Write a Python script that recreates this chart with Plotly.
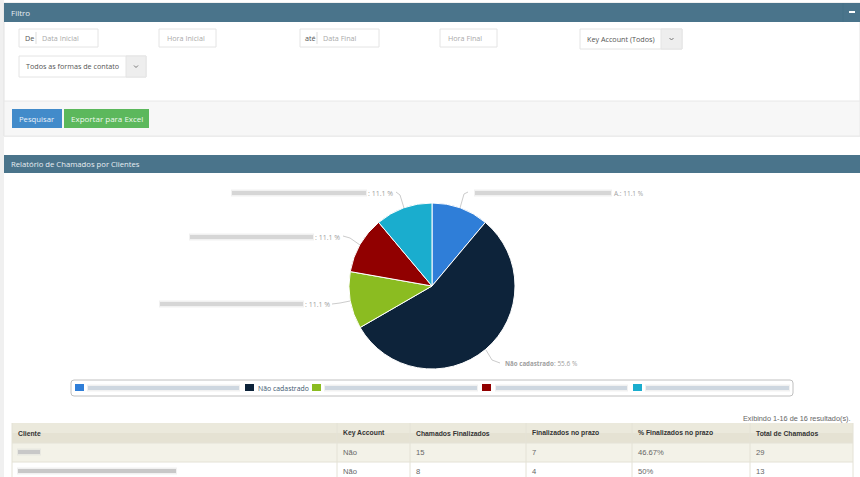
import plotly.graph_objects as go

W, H = 860, 477

# pie data
slice_names = ["Empresa A", "Não cadastrado", "Empresa B", "Empresa C", "Empresa D"]
slice_values = [1, 5, 1, 1, 1]
slice_colors = ["#2f7ed8", "#0d233a", "#8bbc21", "#910000", "#1aadce"]

# table data
table_columns = ["Cliente", "Key Account", "Chamados Finalizados", "Finalizados no prazo",
                 "% Finalizados no prazo", "Total de Chamados"]
key_account = ["Não", "Não"]
chamados_finalizados = ["15", "8"]
finalizados_prazo = ["7", "4"]
pct_prazo = ["46.67%", "50%"]
total_chamados = ["29", "13"]


def px(x):
    return x / W


def py(y):
    return 1 - y / H


shapes = []
annotations = []


def rect(x0, y0, x1, y1, fill, line=None, lw=1):
    shapes.append(dict(type="rect", xref="paper", yref="paper", x0=px(x0), x1=px(x1), y0=py(y0), y1=py(y1),
                       fillcolor=fill, line=dict(color=line or fill, width=lw if line else 0), layer="above"))


def seg(points, color, lw=1):
    path = "M" + " L".join(f"{px(x)},{py(y)}" for x, y in points)
    shapes.append(dict(type="path", xref="paper", yref="paper", path=path,
                       line=dict(color=color, width=lw), layer="above"))


def text(x, y, s, color="#555555", size=8, anchor="left", font="Open Sans"):
    annotations.append(dict(x=px(x), y=py(y), xref="paper", yref="paper", text=s, showarrow=False,
                            xanchor=anchor, yanchor="middle", borderpad=0,
                            font=dict(family=font, size=size, color=color)))


def smudge(x0, x1, y, color="#d6d6d6"):
    # names are blurred out in the source screenshot
    seg([(x0, y), (x1, y)], "rgba(210,210,210,0.3)", 7)
    seg([(x0 + 1, y), (x1 - 1, y)], color, 4)


def dropdown(x0, y0, x1, y1, split, label):
    rect(x0, y0, x1, y1, "#ffffff", "#e4e4e4")
    rect(split, y0, x1, y1, "#eeeeee", "#e4e4e4")
    text(x0 + 6, (y0 + y1) / 2 - 0.5, label, "#555555", 7.2)
    mx, my = (split + x1) / 2, (y0 + y1) / 2
    seg([(mx - 2, my - 1), (mx, my + 1), (mx + 2, my - 1)], "#777777")


# page and panels
rect(0, 0, 4, H, "#f0f0f0")
rect(4, 3, W, 136, "#ffffff", "#e2e2e2")
rect(4, 3, W, 22, "#4a748b")
text(10, 12.5, "Filtro", "#e8eef2", 8)
seg([(843, 3), (843, 22)], "#447086")
rect(849, 11, 855, 13, "#ffffff")
rect(4, 101, W, 136, "#f7f7f7", "#e8e8e8")
rect(4, 155, W, 173, "#4a748b")
text(10, 164, "Relatório de Chamados por Clientes", "#e8eef2", 7.7)

# filter inputs
rect(19, 29, 98, 47, "#ffffff", "#e4e4e4")
text(24, 38, "De", "#555555", 7.2)
seg([(36, 32), (36, 44)], "#dddddd")
text(41, 38, "Data Inicial", "#aaaaaa", 7.2)
rect(159, 29, 216, 47, "#ffffff", "#e4e4e4")
text(166, 38, "Hora Inicial", "#aaaaaa", 7.2)
rect(300, 29, 379, 47, "#ffffff", "#e4e4e4")
text(304, 38, "até", "#555555", 7.2)
seg([(317, 32), (317, 44)], "#dddddd")
text(322, 38, "Data Final", "#aaaaaa", 7.2)
rect(440, 29, 497, 47, "#ffffff", "#e4e4e4")
text(447, 38, "Hora Final", "#aaaaaa", 7.2)
dropdown(580, 29, 682, 49, 661, "Key Account (Todos)")
dropdown(19, 56, 146, 77, 126, "Todos as formas de contato")

# buttons
rect(12, 109, 62, 128, "#428bca")
text(37, 118.5, "Pesquisar", "#eaf2fa", 7.7, "center")
rect(64, 109, 149, 128, "#5cb85c")
text(106.5, 118.5, "Exportar para Excel", "#eef8ee", 8, "center")

# pie labels and connectors
label_color = "#a0a0a0"
smudge(231, 367, 193)
text(367, 193, ": 11.1 %", label_color, 7)
seg([(396, 192), (400, 195), (404, 208)], "#cccccc")
smudge(189, 314, 237)
text(314, 237, ": 11.1 %", label_color, 7)
seg([(343, 236), (350, 238), (360, 245)], "#cccccc")
smudge(159, 304, 304)
text(304, 304, ": 11.1 %", label_color, 7)
seg([(332, 304), (340, 303), (350, 301)], "#cccccc")
smudge(474, 612, 193)
text(613, 193, "A.: 11.1 %", label_color, 6.5)
seg([(468, 192), (464, 194), (460, 208)], "#cccccc")
text(504, 363, "<b>Não cadastrado</b>", label_color, 6.2)
text(553, 363, ": 55.6 %", label_color, 6.5)
seg([(486, 350), (492, 360), (500, 363)], "#cccccc")

# legend box, swatches follow the slice colours
lx0, lx1, ly0, ly1, r = px(71), px(793), py(380), py(396), 3 / W
ry = 3 / H
shapes.append(dict(type="path", xref="paper", yref="paper", layer="above", fillcolor="#ffffff",
                   line=dict(color="#c0c0c0", width=1),
                   path=f"M{lx0 + r},{ly0} L{lx1 - r},{ly0} Q{lx1},{ly0} {lx1},{ly0 - ry} L{lx1},{ly1 + ry} "
                        f"Q{lx1},{ly1} {lx1 - r},{ly1} L{lx0 + r},{ly1} Q{lx0},{ly1} {lx0},{ly1 + ry} "
                        f"L{lx0},{ly0 - ry} Q{lx0},{ly0} {lx0 + r},{ly0} Z"))
legend_items = [(75, 87, 240), (245, 257, 308), (312, 324, 478), (482, 495, 628), (633, 645, 790)]
for (sx, tx, ex), color, name in zip(legend_items, slice_colors, slice_names):
    rect(sx, 384, sx + 9, 391, color)
    if name == "Não cadastrado":
        text(tx, 388, name, "#3e576f", 6.9)
    else:
        smudge(tx, ex, 388, "#ced7e0")

# table
col_edges = [12, 337, 410, 526, 632, 750, 853]
row_edges = [443, 462, 481]
row_fills = ["#f3f2e8", "#ffffff"]
rect(12, 423, 853, 433, "#ebe9dc")
rect(12, 433, 853, 443, "#e5e2d3")
for i, fill in enumerate(row_fills):
    rect(12, row_edges[i], 853, row_edges[i + 1], fill)
    seg([(12, row_edges[i]), (853, row_edges[i])], "#e4e2d6")
for edge in col_edges:
    seg([(edge, 423), (edge, H)], "#e4e2d6")
for j, name in enumerate(table_columns):
    text(col_edges[j] + 4.5, 433, f"<b>{name}</b>", "#333333", 6.8, "left", "Liberation Sans")
columns = [key_account, chamados_finalizados, finalizados_prazo, pct_prazo, total_chamados]
for j, col in enumerate(columns):
    for i, value in enumerate(col):
        text(col_edges[j + 1] + 4.5, row_edges[i] + 9.5, value, "#666666", 7.6, "left", "Liberation Sans")

# blurred client names
smudge(17, 41, 452, "#c8c8c8")
smudge(17, 177, 471, "#c8c8c8")
text(852, 418, "Exibindo 1-16 de 16 resultado(s).", "#666666", 7.3, "right", "Liberation Sans")

pie = go.Pie(labels=slice_names, values=slice_values, sort=False, direction="clockwise", rotation=0,
             marker=dict(colors=slice_colors, line=dict(color="#ffffff", width=1)),
             textinfo="none", showlegend=False, hole=0,
             domain=dict(x=[px(432 - 83), px(432 + 83)], y=[py(369), py(203)]))

fig = go.Figure([pie])
fig.update_layout(width=W, height=H, margin=dict(l=0, r=0, t=0, b=0), paper_bgcolor="#ffffff",
                  shapes=shapes, annotations=annotations)
fig.write_html("out.html", config={"displayModeBar": False}, post_script="document.body.style.margin='0';")
